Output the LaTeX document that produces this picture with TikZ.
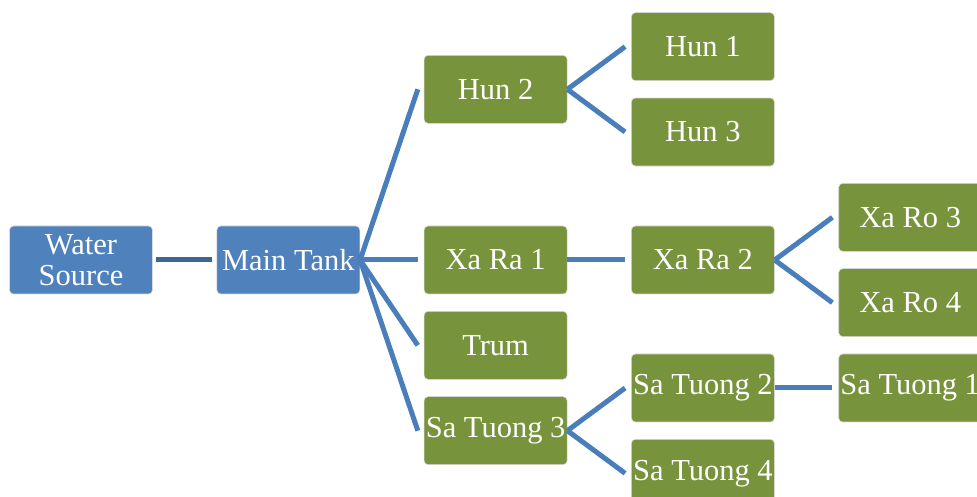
\documentclass[tikz,border=0pt]{standalone}
\usepackage{xcolor}
\usepackage{fontspec}
\setmainfont{Liberation Serif}
\usepackage{tikz}
\usetikzlibrary{positioning}
\definecolor{tankblue}{HTML}{4F81BD}
\definecolor{roomgreen}{HTML}{77933C}
\definecolor{pipeblue}{HTML}{4A7EBB}
\definecolor{pipedark}{HTML}{3C6694}

\begin{document}
\begin{tikzpicture}
  [
    x=207.3pt, y=-85.33pt,
    Box/.style={rectangle, rounded corners=4pt, draw=white!70!gray, line width=0.6pt,
      minimum width=143pt, minimum height=68pt, inner sep=0pt, align=center,
      text=white, font=\fontsize{30.5}{31}\selectfont},
    Blue/.style={Box, fill=tankblue},
    Green/.style={Box, fill=roomgreen},
    Link/.style={draw=pipeblue, line width=5pt}
  ]
  \useasboundingbox (-81pt,260pt) rectangle (896pt,-237pt);
  % Nodes
  \node[Blue] (water) at(0, 0) {Water\\Source};
  \node[Blue] (main) at(1, 0) {Main Tank};
  \node[Green] (hun2) at(2, -2) {Hun 2};
  \node[Green] (xara1) at(2, 0) {Xa Ra 1};
  \node[Green] (trum) at(2, 1) {Trum};
  \node[Green] (st3) at(2, 2) {Sa Tuong 3};
  \node[Green] (hun1) at(3, -2.5) {Hun 1};
  \node[Green] (hun3) at(3, -1.5) {Hun 3};
  \node[Green] (xara2) at(3, 0) {Xa Ra 2};
  \node[Green] (st2) at(3, 1.5) {Sa Tuong 2};
  \node[Green] (st4) at(3, 2.5) {Sa Tuong 4};
  \node[Green] (xaro3) at(4, -0.5) {Xa Ro 3};
  \node[Green] (xaro4) at(4, 0.5) {Xa Ro 4};
  \node[Green] (st1) at(4, 1.5) {Sa Tuong 1};
  % Lines
  \path [Link, draw=pipedark, shorten <=3pt, shorten >=5pt] (water.east) -- (main.west);
  \path [Link] (main.east) -- ([xshift=-6pt]hun2.west);
  \path [Link] (main.east) -- ([xshift=-6pt]xara1.west);
  \path [Link] (main.east) -- ([xshift=-6pt]trum.west);
  \path [Link] (main.east) -- ([xshift=-6pt]st3.west);
  \path [Link] (hun2.east) -- ([xshift=-6pt]hun1.west);
  \path [Link] (hun2.east) -- ([xshift=-6pt]hun3.west);
  \path [Link] (xara1.east) -- ([xshift=-6pt]xara2.west);
  \path [Link] (xara2.east) -- ([xshift=-6pt]xaro3.west);
  \path [Link] (xara2.east) -- ([xshift=-6pt]xaro4.west);
  \path [Link] (st3.east) -- ([xshift=-6pt]st2.west);
  \path [Link] (st3.east) -- ([xshift=-6pt]st4.west);
  \path [Link] (st2.east) -- ([xshift=-6pt]st1.west);
\end{tikzpicture}
\end{document}
